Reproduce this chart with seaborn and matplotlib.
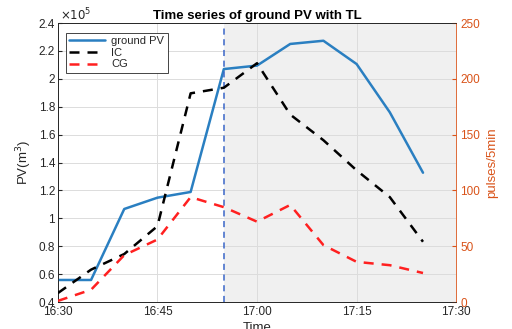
import numpy as np
import pandas as pd
import matplotlib
matplotlib.use("Agg")
import matplotlib.pyplot as plt
from matplotlib.ticker import FuncFormatter
from matplotlib.lines import Line2D
import seaborn as sns

# ---- data ----
minutes = [0, 5, 10, 15, 20, 25, 30, 35, 40, 45, 50, 55]  # minutes since 16:30
ground_pv = [55800, 55800, 106700, 114800, 118900, 207000, 209500, 225000, 227300, 210600, 176000, 132700]
ic = [8, 29, 43, 68, 187, 192, 214, 168, 145, 118, 94, 54]
cg = [1, 11, 42, 56, 94, 85, 72, 87, 51, 36, 33, 26]
xtick_labels = ["16:30", "16:45", "17:00", "17:15", "17:30"]
xtick_pos = [0, 15, 30, 45, 60]
tl_start = 25  # 16:55

sns.set_style("white")
plt.rcParams['font.family'] = ['Liberation Sans', 'DejaVu Sans']

df = pd.DataFrame({"t": minutes, "pv": ground_pv, "ic": ic, "cg": cg})

fig = plt.figure(figsize=(5.12, 3.29), dpi=100)
ax = fig.add_axes([0.113, 0.082, 0.778, 0.848])
ax2 = ax.twinx()

dark = '#262626'
orange = '#D95319'
blue = '#2a7fc1'

ax.axvspan(tl_start, 60, color='#f0f0f0', zorder=0, lw=0)
sns.lineplot(data=df, x="t", y="pv", ax=ax, color=blue, lw=1.8, zorder=3)
ax.axvline(tl_start, color='#3a66c8', ls=(0, (4, 3)), lw=1.1, zorder=4)

sns.lineplot(data=df, x="t", y="ic", ax=ax2, color='black', lw=1.8, zorder=3)
sns.lineplot(data=df, x="t", y="cg", ax=ax2, color='#ff2020', lw=1.8, zorder=3)
for ln in ax2.lines:
    ln.set_dashes((4, 3.2))

ax.set_xlim(0, 60)
ax.set_ylim(40000, 240000)
ax2.set_ylim(0, 250)
ax.set_xticks(xtick_pos)
ax.set_xticklabels(xtick_labels)
yt = np.arange(40000, 240001, 20000)
ax.set_yticks(yt)
ax.yaxis.set_major_formatter(FuncFormatter(lambda v, p: f"{v/1e5:g}"))
ax2.set_yticks([0, 50, 100, 150, 200, 250])

ax.grid(True, color='#dcdcdc', lw=0.7)
ax.set_axisbelow(True)

ax.tick_params(axis='both', colors=dark, labelsize=8.5, length=3, direction='in', pad=2)
ax2.tick_params(axis='y', colors=orange, labelsize=8.5, length=3, direction='in', pad=3)
ax.tick_params(axis='x', pad=3)
for s in ['left', 'bottom', 'top']:
    ax.spines[s].set_color(dark)
    ax.spines[s].set_linewidth(0.6)
for s in ['left', 'bottom', 'top']:
    ax2.spines[s].set_color(dark)
    ax2.spines[s].set_linewidth(0.6)
ax2.spines['right'].set_color(orange)
ax2.spines['right'].set_linewidth(0.6)
ax.spines['right'].set_visible(False)

ax.set_xlabel("Time", fontsize=9.5, color=dark, labelpad=3)
ax.set_ylabel("PV(m$^3$)", fontsize=9.5, color=dark, labelpad=3)
ax2.set_ylabel("pulses/5min", fontsize=9.5, color=orange, labelpad=4)
ax.set_title("Time series of ground PV with TL", fontsize=9.5, fontweight='bold', color='black', pad=3)
ax.text(0.005, 1.0, r"$\times10^5$", transform=ax.transAxes, fontsize=8.5, color=dark, va='bottom', ha='left')

handles = [Line2D([], [], color=blue, lw=1.8),
           Line2D([], [], color='black', lw=1.8, dashes=(4, 3.2)),
           Line2D([], [], color='#ff2020', lw=1.8, dashes=(4, 3.2))]
leg = ax2.legend(handles, ["ground PV", "IC", "CG"], loc='upper left', bbox_to_anchor=(0.02, 0.965),
                 fontsize=8, frameon=True, fancybox=False, edgecolor=dark, framealpha=1,
                 borderpad=0.3, labelspacing=0.15, handlelength=3.2, handletextpad=0.6, borderaxespad=0)
leg.get_frame().set_linewidth(0.6)
leg.set_zorder(10)

fig.savefig("out.png", dpi=100)
